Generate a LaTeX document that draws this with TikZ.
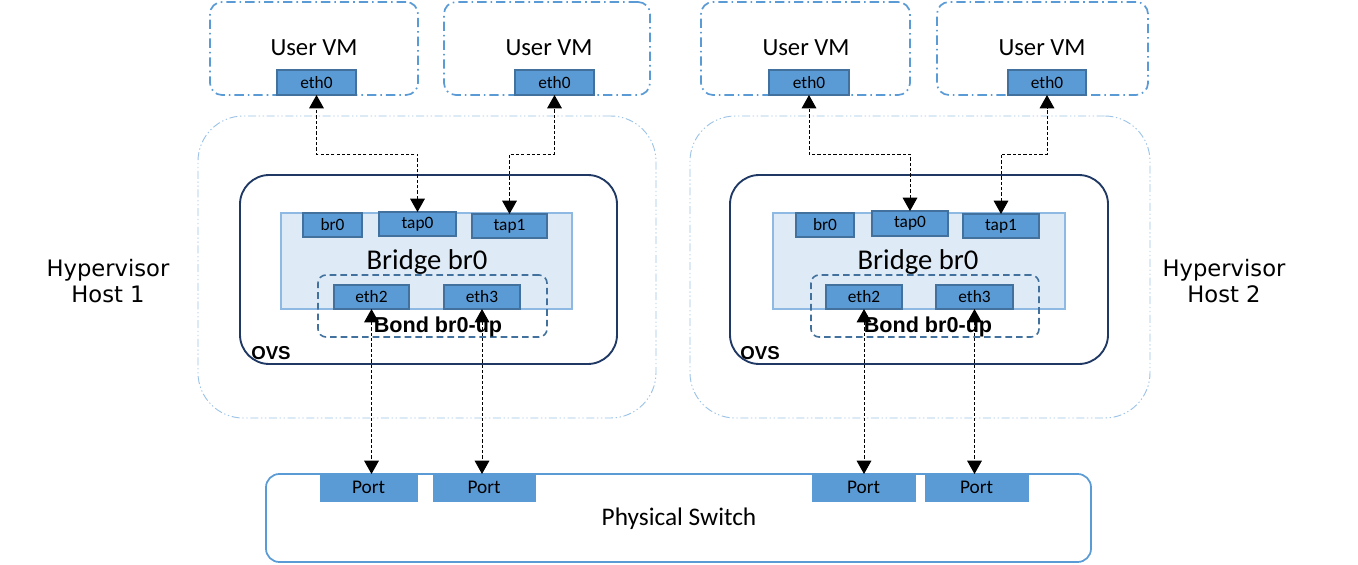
\documentclass[tikz,border=0pt]{standalone}
\usepackage{fontspec}
\setmainfont{Carlito}
\newfontfamily\arialf{Liberation Sans}
\newfontfamily\dejavuf{DejaVu Sans}
\usetikzlibrary{arrows.meta}
\definecolor{vmblue}{HTML}{5B9BD5}
\definecolor{hostblue}{HTML}{9DC3E6}
\definecolor{navy}{HTML}{1F3864}
\definecolor{bridgefill}{HTML}{DEEBF7}
\definecolor{bridgeline}{HTML}{8DB9E2}
\definecolor{portfill}{HTML}{5B9BD5}
\definecolor{portline}{HTML}{41719C}
\newcommand\R[7]{\node[#1, inner sep=0pt, outer sep=0pt, minimum width={(#5-#3)*0.75pt}, minimum height={(#6-#4)*0.75pt}] (#2) at ({(#3+#5)/2},{(#4+#6)/2}) {#7};}
\tikzset{
  vmbox/.style={draw=vmblue, line width=1.3pt, rounded corners=9pt, dash pattern=on 7pt off 3pt on 1.2pt off 3pt},
  hostbox/.style={draw=hostblue, line width=0.7pt, rounded corners=34pt, dash pattern=on 6pt off 2pt on 1pt off 2pt on 1pt off 2pt},
  ovsbox/.style={draw=navy, line width=1.4pt, rounded corners=22pt},
  bridgebox/.style={draw=bridgeline, fill=bridgefill, line width=1pt},
  bondbox/.style={draw=portline, line width=1.2pt, rounded corners=6pt, dash pattern=on 5pt off 3pt},
  ifbox/.style={draw=portline, fill=portfill, line width=1pt, font=\fontsize{13}{15}\selectfont},
  portbox/.style={draw=portfill, fill=portfill, line width=0.6pt, font=\fontsize{14.5}{16}\selectfont},
  switchbox/.style={draw=vmblue, line width=1.3pt, rounded corners=10pt},
  vmtext/.style={font=\fontsize{18.5}{20}\selectfont, inner sep=0pt},
  brtext/.style={font=\fontsize{21.5}{24}\selectfont, inner sep=0pt},
  bondtext/.style={font=\arialf\bfseries\fontsize{16.2}{18}\selectfont, inner sep=0pt},
  ovstext/.style={font=\arialf\bfseries\fontsize{14}{16}\selectfont, inner sep=0pt, anchor=west},
  hvtext/.style={font=\dejavuf\fontsize{17}{19.5}\selectfont, align=center, inner sep=0pt},
  tipa/.tip={Triangle[width=11pt,length=10pt]},
  link/.style={draw=black, line width=0.75pt, dash pattern=on 2.4pt off 1.6pt, tipa-tipa}
}
\begin{document}
\begin{tikzpicture}[x=0.75pt,y=-0.75pt]
\useasboundingbox (0,0) rectangle (1358,564);
% ---------- Host 1 ----------
\R{hostbox}{hostA}{198}{116}{656}{418}{}
\R{vmbox}{vm1}{210}{2}{418}{95}{}
\R{vmbox}{vm2}{444}{2}{650}{95}{}
\node[vmtext] (vm1t) at (314,48) {User VM};
\node[vmtext] (vm2t) at (549,48) {User VM};
\R{ifbox}{e01}{277}{70}{356}{95}{eth0}
\R{ifbox}{e02}{515}{70}{594}{95}{eth0}
\R{ovsbox}{ovsA}{240}{175}{617}{364}{}
\R{bridgebox}{brA}{281}{213}{572}{309}{}
\node[brtext] (brAt) at (427,262) {Bridge br0};
\R{bondbox}{bondA}{318}{275}{547}{337}{}
\R{ifbox}{br0A}{303}{213}{362}{237}{br0}
\R{ifbox}{tap0A}{379}{212}{456}{236}{tap0}
\R{ifbox}{tap1A}{472}{214}{547}{238}{tap1}
\R{ifbox}{eth2A}{334}{285}{409}{309}{eth2}
\R{ifbox}{eth3A}{444}{285}{520}{309}{eth3}
\node[bondtext] (bondAt) at (438,327) {Bond br0-up};
\node[ovstext] (ovsAt) at (251,353) {OVS};
\node[hvtext] (hvA) at (108,281) {Hypervisor\\Host 1};
% ---------- Host 2 ----------
\R{hostbox}{hostB}{690}{116}{1150}{418}{}
\R{vmbox}{vm3}{701}{2}{910}{95}{}
\R{vmbox}{vm4}{937}{2}{1148}{95}{}
\node[vmtext] (vm3t) at (806,48) {User VM};
\node[vmtext] (vm4t) at (1042,48) {User VM};
\R{ifbox}{e03}{769}{70}{849}{95}{eth0}
\R{ifbox}{e04}{1008}{70}{1086}{95}{eth0}
\R{ovsbox}{ovsB}{730}{175}{1108}{364}{}
\R{bridgebox}{brB}{773}{213}{1065}{309}{}
\node[brtext] (brBt) at (918,262) {Bridge br0};
\R{bondbox}{bondB}{811}{275}{1039}{337}{}
\R{ifbox}{br0B}{796}{213}{854}{237}{br0}
\R{ifbox}{tap0B}{872}{211}{948}{236}{tap0}
\R{ifbox}{tap1B}{963}{214}{1039}{238}{tap1}
\R{ifbox}{eth2B}{826}{285}{902}{309}{eth2}
\R{ifbox}{eth3B}{936}{285}{1013}{309}{eth3}
\node[bondtext] (bondBt) at (928,327) {Bond br0-up};
\node[ovstext] (ovsBt) at (740,353) {OVS};
\node[hvtext] (hvB) at (1224,281) {Hypervisor\\Host 2};
% ---------- Physical switch ----------
\R{switchbox}{sw}{266}{474}{1091}{562}{}
\node[font=\fontsize{19}{21}\selectfont, inner sep=0pt] (swt) at (679,519) {Physical Switch};
\R{portbox}{p1}{320}{474}{417}{501}{Port}
\R{portbox}{p2}{433}{474}{535}{501}{Port}
\R{portbox}{p3}{812}{474}{915}{501}{Port}
\R{portbox}{p4}{925}{474}{1028}{501}{Port}
% ---------- connectors ----------
\draw[link] (tap0A.north) -- (tap0A.north |- 0,154) -| (e01.south);
\draw[link] (tap1A.north) -- (tap1A.north |- 0,154) -| (e02.south);
\draw[link] (tap0B.north) -- (tap0B.north |- 0,154) -| (e03.south);
\draw[link] (tap1B.north) -- (tap1B.north |- 0,154) -| (e04.south);
\draw[link] (eth2A.south) -- (eth2A.south |- p1.north);
\draw[link] (eth3A.south) -- (eth3A.south |- p2.north);
\draw[link] (eth2B.south) -- (eth2B.south |- p3.north);
\draw[link] (eth3B.south) -- (eth3B.south |- p4.north);
\end{tikzpicture}
\end{document}
